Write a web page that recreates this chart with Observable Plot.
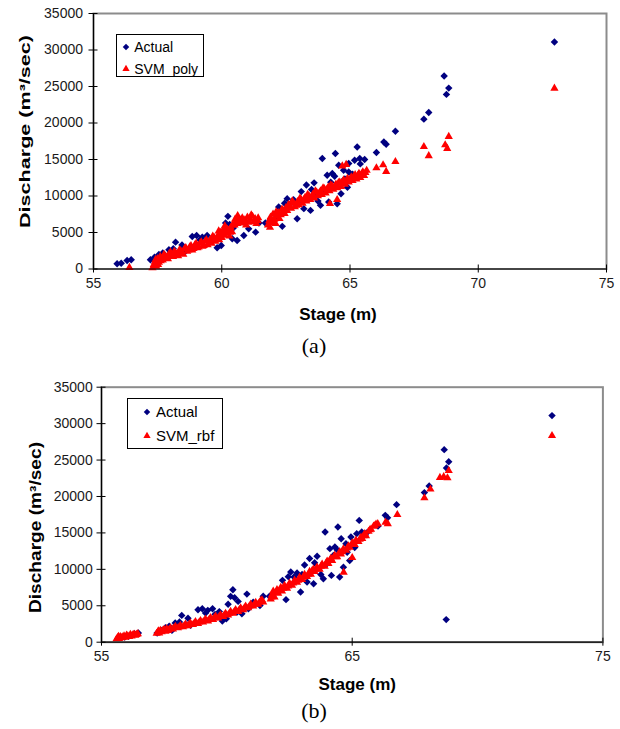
<!DOCTYPE html>
<html><head><meta charset="utf-8">
<script src="https://cdn.jsdelivr.net/npm/d3@7"></script>
<script src="https://cdn.jsdelivr.net/npm/@observablehq/plot@0.6"></script>
<style>
body{margin:0;background:#fff;font-family:"Liberation Sans",Arial,sans-serif;}
#wrap{position:relative;width:620px;height:729px;overflow:hidden;}
.panel{position:absolute;left:0;width:620px;}
.legend{position:absolute;background:#fff;border:1px solid #000;box-sizing:border-box;color:#000;}
.legend .row{position:absolute;display:flex;align-items:center;white-space:nowrap;line-height:1;}
.legend svg{position:absolute;overflow:visible;}
.cap{position:absolute;font-family:"Liberation Serif","Times New Roman",serif;font-size:22px;color:#000;transform:translate(-50%,-50%);}
</style></head>
<body><div id="wrap"></div>
<script>
// ---------- data ----------
const stageTicksA = [55, 60, 65, 70, 75];
const stageTicksB = [55, 65, 75];
const dischargeTicks = [0, 5000, 10000, 15000, 20000, 25000, 30000, 35000];
const xTitle = "Stage (m)";
const yTitle = "Discharge (m³/sec)";
const seriesNames = ["Actual", "SVM_poly", "SVM_rbf"];

// [stage (m), discharge (m3/sec)]
const actual = [
[55.92,710],[56.08,800],[56.31,1170],[56.47,1260],
[57.22,1260],[57.38,1620],[57.55,1990],[57.7,2200],[57.81,1620],[57.94,2640],[58.0,2400],[58.11,2770],[58.2,3680],[58.36,2450],[58.45,3300],[58.55,2310],
[58.85,4460],[59.02,4600],[59.15,4000],[59.24,4370],[59.43,4600],[59.53,3820],[59.7,4200],[59.82,2910],[59.98,3230],[60.05,5200],
[60.15,6290],[60.24,7210],[60.31,6110],[60.41,4150],[60.45,5600],[60.6,3910],[60.86,4600],[60.8,6600],[61.05,5500],[61.32,5050],[61.45,6300],
[61.7,6300],[61.9,6700],[62.1,7000],[62.36,5840],[62.22,8490],[62.45,9000],[62.55,9640],[62.68,8950],[62.8,9500],[62.94,6890],[63.0,9300],
[63.1,10600],[63.2,8270],[63.46,8030],[63.3,11500],[63.5,10900],[63.6,11800],[63.75,9300],[63.85,8720],[63.6,10200],[64.0,10800],
[64.17,9170],[64.25,11900],[64.4,12700],[64.5,8950],[64.65,10300],[64.9,11200],[63.92,15130],[64.43,15820],[64.56,14210],[64.75,13520],[64.95,13290],
[64.11,12840],[64.31,13070],[64.8,12350],[65.28,16720],[65.18,14900],[65.38,15130],[65.4,14400],[65.57,14990],[64.95,14450],[65.1,12990],
[66.03,15950],[66.32,17410],[66.41,17090],[66.77,18880],[67.88,20530],[68.07,21450],[68.67,26430],[68.76,23920],[68.85,24780],[72.97,31100]
];
const actualExtraB = [[68.75,3100]];

const svmPoly = [
[56.4,200],
[57.3,150],[57.35,600],[57.4,1000],[57.42,1300],[57.45,350],[57.5,1400],[57.52,600],[57.55,900],[57.6,1700],[57.62,1100],[57.68,1500],[57.7,1200],[57.75,2000],[57.78,1800],[57.85,1600],[57.9,1400],
[57.95,2100],[58.0,2300],[58.05,1800],[58.1,1700],[58.15,2400],[58.2,2200],[58.25,2000],[58.3,1800],[58.35,2600],[58.4,2500],[58.45,2200],[58.5,2000],[58.55,2800],[58.6,2900],[58.65,2400],[58.7,2600],[58.75,3000],[58.8,3200],[58.85,2600],[58.9,2800],
[58.95,3300],[59.0,3500],[59.05,2900],[59.1,3000],[59.15,3500],[59.2,3700],[59.25,3100],[59.3,3200],[59.35,3800],[59.4,4000],[59.45,3300],[59.5,3600],[59.55,4000],[59.6,3500],[59.65,4500],[59.7,4300],[59.75,3800],[59.8,4100],
[59.85,4600],[59.88,5200],[59.9,4000],[59.95,5000],[60.0,4300],[60.02,4800],[60.05,5300],[60.1,4600],[60.12,5900],[60.15,5600],[60.2,4900],[60.22,5400],[60.25,5300],[60.3,4500],[60.32,5000],[60.35,5700],[60.4,5100],[60.42,6000],
[60.5,6000],[60.52,6800],[60.55,6500],[60.6,6200],[60.62,7300],[60.65,6900],[60.7,6400],[60.75,6700],[60.8,7000],[60.85,6300],[60.9,6700],[60.95,6000],[61.0,7100],[61.05,6400],[61.1,6800],[61.15,7400],[61.2,7200],[61.25,6500],[61.3,6900],[61.35,6200],[61.4,6600],[61.42,7000],
[61.8,6000],[61.85,6600],[61.88,5700],[61.9,7100],[61.95,6300],[62.0,7500],[62.0,6500],[62.05,6800],[62.1,6200],[62.12,7800],[62.15,7200],[62.2,7700],[62.25,6900],[62.3,7400],
[62.35,8200],[62.4,7900],[62.45,7600],[62.5,8400],[62.55,8000],[62.6,8800],[62.65,8600],[62.7,8300],[62.75,9300],[62.8,9000],[62.85,8500],[62.9,8700],[62.95,9200],
[63.0,8800],[63.05,9700],[63.1,9500],[63.15,9000],[63.2,9500],[63.25,9800],[63.3,9300],[63.35,10200],[63.4,10000],[63.45,9500],[63.5,9900],
[63.55,10200],[63.6,9700],[63.65,10700],[63.7,10500],[63.75,10000],[63.8,10400],[63.85,10700],[63.9,10200],[63.95,11100],
[64.0,11000],[64.05,10400],[64.1,10900],[64.15,11200],[64.2,10700],[64.25,11500],[64.3,11400],[64.35,10900],[64.4,11300],[64.45,11600],
[64.5,11100],[64.55,11800],[64.6,11900],[64.65,11300],[64.7,11900],[64.75,12200],[64.8,11600],[64.85,12000],[64.9,12400],[64.95,11900],
[65.0,12300],[65.05,12600],[65.1,12100],[65.15,12700],[65.2,12900],[65.25,12300],[65.3,12800],[65.35,13100],[65.4,12500],[65.45,13000],[65.5,13300],[65.55,12800],[65.6,13200],[65.65,13500],
[64.7,14100],[64.85,14300],
[64.22,8950],[64.5,9500],
[66.03,13850],[66.29,14250],[66.41,13350],[66.77,14700],
[67.88,16750],[68.07,15500],[68.71,17000],[68.79,16500],[68.85,18150],
[72.97,24750]
];

const svmRbf = [
[55.6,450],[55.65,650],[55.68,800],[55.7,500],[55.75,750],[55.8,600],[55.85,700],[55.9,850],[55.95,650],[56.0,950],[56.05,850],[56.1,750],[56.15,1050],[56.2,850],[56.25,1000],[56.3,1100],[56.35,950],[56.4,1050],[56.45,1150],
[57.2,1200],[57.25,1450],[57.28,1550],[57.3,1250],[57.35,1600],[57.4,1400],[57.45,1600],[57.5,1750],[57.55,1500],[57.6,1850],[57.65,1600],[57.7,1750],[57.75,1950],
[57.85,1800],[57.9,2000],[57.95,2150],[58.05,1950],[58.1,2100],[58.15,2300],[58.25,2100],[58.3,2250],[58.35,2450],[58.45,2250],[58.5,2450],[58.55,2600],[58.65,2400],[58.7,2600],[58.75,2800],[58.85,2550],[58.9,2750],[58.95,2950],[59.05,2750],[59.1,2950],[59.15,3150],[59.25,2900],[59.3,3150],[59.35,3350],[59.45,3100],[59.5,3350],[59.55,3550],[59.65,3300],[59.7,3550],[59.75,3750],[59.85,3500],[59.9,3750],[59.95,3950],[60.05,3700],[60.1,3950],[60.15,4200],[60.25,3950],[60.3,4200],[60.35,4450],[60.45,4200],[60.5,4450],[60.55,4700],[60.65,4450],[60.7,4700],[60.75,4950],[60.85,4700],[60.9,4950],[60.95,5200],[61.05,4950],[61.1,5200],[61.15,5450],[61.25,5200],[61.3,5450],[61.35,5700],[61.4,5800],[61.45,5500],
[61.75,5900],[61.78,6200],[61.8,6500],[61.85,7000],[61.9,6200],[61.95,6800],[62.0,7200],[62.05,6700],[62.1,7100],[62.15,7500],[62.2,7000],[62.25,7400],[62.3,7800],[62.4,7400],[62.45,7700],[62.5,8100],[62.6,7800],[62.65,8100],[62.7,8500],[62.8,8200],[62.85,8500],[62.9,8900],[63.0,8600],[63.05,8900],[63.1,9300],[63.2,9000],[63.25,9300],[63.3,9700],[63.35,9300],[63.4,9800],
[63.45,10000],[63.5,9700],[63.55,10000],[63.6,10300],[63.7,10000],[63.75,10400],[63.8,10700],[63.9,10400],[63.95,10800],[64.0,11100],[64.05,10800],[64.1,11200],[64.15,11500],[64.2,11200],[64.3,11900],[64.35,11700],[64.4,11700],[64.5,12400],[64.55,12100],[64.6,12400],[64.65,12800],[64.75,12600],[64.8,12900],[64.85,13200],[64.9,13000],[65.0,13600],[65.05,13500],[65.1,13400],[65.15,14000],[65.25,13800],[65.3,14100],[65.35,14400],[65.4,14200],[65.45,14600],[65.5,14900],[65.55,14600],[65.65,15200],[65.7,15400],[65.75,15500],[65.85,15900],[65.9,16000],[65.95,16200],
[64.66,9600],[65.0,11600],
[66.02,16250],[66.33,16450],[66.42,16250],[66.8,17500],[67.88,19800],[68.12,21000],[68.5,22600],[68.65,22700],[68.8,22550],[68.85,23550],[72.97,28350]
];

// ---------- style ----------
const BLUE = "#000080", RED = "#ff0000";
const FONT = '"Liberation Sans", Arial, sans-serif';
const RD = 3.35, RT = 3.05;

function makePanel(cfg) {
  const svg = Plot.plot({
    width: 620, height: cfg.height,
    marginTop: cfg.mt, marginBottom: cfg.mb, marginLeft: cfg.ml, marginRight: cfg.mr,
    style: {fontFamily: FONT, fontSize: "14px", color: "#1a1a1a", background: "#fff", overflow: "visible"},
    x: {domain: [55, 75], label: null},
    y: {domain: [0, 35000], label: null},
    marks: [
      Plot.frame({stroke: "#8c8c8c", strokeWidth: 2}),
      Plot.dot(cfg.actual, {x: d => d[0], y: d => d[1], symbol: "diamond2", r: RD, fill: BLUE, stroke: "none"}),
      Plot.dot(cfg.pred, {x: d => d[0], y: d => d[1], symbol: "triangle", r: RT, fill: RED, stroke: "none"}),
      Plot.ruleX([55], {stroke: "#000", strokeWidth: 1.2}),
      Plot.ruleY([0], {stroke: "#000", strokeWidth: 1.2}),
      Plot.axisY({ticks: dischargeTicks, tickFormat: "d", tickSize: 9, dx: 4.5, tickPadding: cfg.yPad, fontSize: 14, stroke: "#000"}),
      Plot.axisX({ticks: cfg.xTicks, tickFormat: "d", tickSize: 8, dy: -4, tickPadding: 5, fontSize: 14, stroke: "#000"}),
      Plot.text([xTitle], {text: d => d, frameAnchor: "bottom", dx: cfg.xdx, dy: cfg.xdy, fontWeight: "bold", fontSize: 17, fill: "#000"}),
      Plot.text([yTitle], {text: d => d, frameAnchor: "left", textAnchor: "start", rotate: -90, dx: cfg.ydx, dy: cfg.ydy, fontWeight: "bold", fontSize: cfg.yFont, fill: "#000"})
    ]
  });
  svg.querySelectorAll("text").forEach(t => {
    if (t.textContent.indexOf("Discharge") >= 0) {
      t.setAttribute("textLength", cfg.yLen);
      t.setAttribute("lengthAdjust", "spacingAndGlyphs");
    }
  });
  const div = document.createElement("div");
  div.className = "panel";
  div.style.top = cfg.top + "px";
  div.style.height = cfg.height + "px";
  div.appendChild(svg);

  // legend
  const lg = document.createElement("div");
  lg.className = "legend";
  Object.assign(lg.style, {left: cfg.lg.left + "px", top: cfg.lg.top + "px", width: cfg.lg.w + "px", height: cfg.lg.h + "px", fontSize: cfg.lg.font + "px"});
  const items = [
    {name: seriesNames[0], sym: d3.symbolDiamond2, size: Math.PI * 2.9 * 2.9, color: BLUE},
    {name: cfg.predName, sym: d3.symbolTriangle, size: Math.PI * 2.7 * 2.7, color: RED}
  ];
  items.forEach((it, i) => {
    const cy = cfg.lg.rows[i];
    const s = d3.create("svg").attr("width", 10).attr("height", 10)
      .style("left", (cfg.lg.sx - 5) + "px").style("top", (cy - 5) + "px");
    s.append("path").attr("transform", "translate(5,5)").attr("d", d3.symbol(it.sym, it.size)()).attr("fill", it.color);
    lg.appendChild(s.node());
    const r = document.createElement("div");
    r.className = "row";
    r.style.left = cfg.lg.tx + "px";
    r.style.top = (cy - cfg.lg.font * 0.55) + "px";
    r.style.height = (cfg.lg.font * 1.1) + "px";
    r.textContent = it.name;
    lg.appendChild(r);
  });
  div.appendChild(lg);

  const cap = document.createElement("div");
  cap.className = "cap";
  cap.style.left = cfg.cap.x + "px";
  cap.style.top = cfg.cap.y + "px";
  cap.textContent = cfg.cap.text;
  div.appendChild(cap);
  return div;
}

const wrap = document.getElementById("wrap");
wrap.appendChild(makePanel({
  top: 0, height: 365, mt: 13, mb: 96.5, ml: 93, mr: 14,
  actual: actual, pred: svmPoly, predName: seriesNames[1], xTicks: stageTicksA,
  yPad: 6, xdx: -12, xdy: 51, ydx: -68, ydy: 86.75, yFont: 15, yLen: 193,
  lg: {left: 115.7, top: 34.3, w: 88.3, h: 43, rows: [11.4, 34], sx: 9.3, tx: 17.6, font: 14},
  cap: {x: 314, y: 346, text: "(a)"}
}));
wrap.appendChild(makePanel({
  top: 365, height: 364, mt: 21.7, mb: 87.3, ml: 101, mr: 17.6,
  actual: actual.concat(actualExtraB), pred: svmRbf, predName: seriesNames[2], xTicks: stageTicksB,
  yPad: 4.3, xdx: 5, xdy: 48, ydx: -66, ydy: 98.3, yFont: 16, yLen: 171,
  lg: {left: 127.3, top: 33.3, w: 95.4, h: 50.7, rows: [12.4, 36.7], sx: 18.7, tx: 27.7, font: 15},
  cap: {x: 314, y: 346, text: "(b)"}
}));
</script>
</body></html>
